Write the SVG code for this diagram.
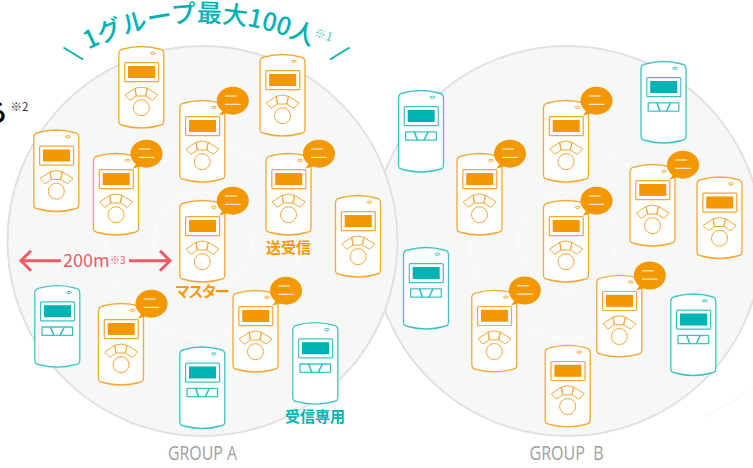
<svg xmlns="http://www.w3.org/2000/svg" width="753" height="468" viewBox="0 0 753 468">
<style>
text{font-family:"Noto Sans CJK JP","Noto Sans",sans-serif}
.zone{fill:#f6f8f8;stroke:#e0e1e1;stroke-width:2}
.ring{fill:none;stroke:#fff;stroke-width:.8;stroke-opacity:.85}
.body{fill:#fff;stroke-width:1.3}
.o{stroke:#f6a632;fill:none;stroke-linejoin:round}
.t{stroke:#3cc3c3;fill:none;stroke-linejoin:round}
.sf-o{fill:#f39800}
.sf-t{fill:#00b2b3}
.lbl-o{fill:#f39800;font-size:15px;font-weight:700}
.lbl-t{fill:#00b2b3;font-size:15px;font-weight:700}
.grp{fill:#a0a0a0;font-family:"Open Sans",sans-serif;font-size:19.5px}
.title{fill:#00b2b3;font-size:25px;font-weight:500}
.deco{stroke:#00b2b3;stroke-width:1.8;fill:none}
.dist{stroke:#ef5a66;stroke-width:3;fill:none}
</style>
<defs>
<path id="case" d="M0.5 8C0.5 4 2 3.2 5 2.5Q23 -2.5 41 2.5C44 3.2 45.5 4 45.5 8L45.5 74C45.5 78 44 78.3 41 79Q23 84 5 79C2 78.3 0.5 78 0.5 74Z"/>
<g id="dev-o">
<use href="#case" class="body" stroke="#f6a632"/>
<ellipse cx="34.5" cy="6.8" rx="2.4" ry="1.1" class="o"/>
<rect x="6.3" y="16.2" width="34" height="19" rx="1" class="o" stroke-width="1.2"/>
<rect x="9.7" y="19.5" width="27" height="12" class="sf-o"/>
<g class="o" stroke-width="1">
<path d="M6.7 48.5L16.7 41.8L18 49.5L11.7 53.8Z"/>
<path d="M39.7 48.5L29 41.8L27.3 49.5L34.3 53.8Z"/>
<path d="M16.7 41.8Q23 39.2 29 41.8L27.3 49.5H18Z"/>
<circle cx="23" cy="61.2" r="8"/>
</g>
</g>
<g id="dev-t">
<use href="#case" class="body" stroke="#3cc3c3"/>
<ellipse cx="34.5" cy="6.8" rx="2.4" ry="1.1" class="t"/>
<rect x="6.3" y="16.2" width="34" height="19" rx="1" class="t" stroke-width="1.2"/>
<rect x="9.7" y="19.5" width="27" height="12" class="sf-t"/>
<g class="t" stroke-width="1.3">
<path d="M7.7 41.3H16.3L19.5 49.7H7.7Z"/>
<path d="M16.3 41.3H30L26 49.7H19.5Z"/>
<path d="M30 41.3H38.3V49.7H26Z"/>
</g>
</g>
<g id="bub">
<path d="M39.7 15.2L45 8L50 12Z" fill="#f39800"/>
<ellipse cx="53.5" cy="0.2" rx="16" ry="14" fill="#f39800"/>
<path d="M45.7 -4.5H57.5M45.7 3.8H61.3" stroke="#fff" stroke-width="1"/>
</g>
<path id="arc" d="M60 67A250 250 0 0 1 346 67"/>
</defs>

<g id="zones">
<circle class="zone" cx="567.3" cy="241" r="195"/>
<circle class="ring" cx="567.3" cy="241" r="49"/>
<circle class="ring" cx="567.3" cy="241" r="97"/>
<circle class="zone" cx="202.5" cy="241" r="195"/>
<circle class="ring" cx="202.5" cy="241" r="49"/>
<circle class="ring" cx="202.5" cy="241" r="97"/>
<path d="M753 387Q730 405 703 417" fill="none" stroke="#f3f4f4"/>
</g>

<g id="connectors">
<path class="dist" d="M31 250.7L21 260.7L31 270.7M21 260.7H61"/>
<path class="dist" d="M160 250.7L170 260.7L160 270.7M170 260.7H129"/>
</g>

<g id="a1" transform="translate(118.3 46.5)"><use href="#dev-o"/></g>
<g id="a2" transform="translate(259.5 54.5)"><use href="#dev-o"/></g>
<g id="a3" transform="translate(33.3 130)"><use href="#dev-o"/></g>
<g id="a4" transform="translate(93 153.5)"><use href="#dev-o"/><use href="#bub"/></g>
<g id="a5" transform="translate(179.3 100.5)"><use href="#dev-o"/><use href="#bub"/></g>
<g id="a6" transform="translate(265.5 153.5)"><use href="#dev-o"/><use href="#bub"/></g>
<g id="a7" transform="translate(179.3 200.5)"><use href="#dev-o"/><use href="#bub"/></g>
<g id="a8" transform="translate(335 195.5)"><use href="#dev-o"/></g>
<g id="a9" transform="translate(34.3 285.7)"><use href="#dev-t"/></g>
<g id="a10" transform="translate(98 303.5)"><use href="#dev-o"/><use href="#bub"/></g>
<g id="a11" transform="translate(232.5 290.5)"><use href="#dev-o"/><use href="#bub"/></g>
<g id="a12" transform="translate(179.3 347)"><use href="#dev-t"/></g>
<g id="a13" transform="translate(292.3 322.7)"><use href="#dev-t"/></g>

<g id="b1" transform="translate(398 90.5)"><use href="#dev-t"/></g>
<g id="b2" transform="translate(456.5 153.5)"><use href="#dev-o"/><use href="#bub"/></g>
<g id="b3" transform="translate(543 100.5)"><use href="#dev-o"/><use href="#bub"/></g>
<g id="b4" transform="translate(543 200.5)"><use href="#dev-o"/><use href="#bub"/></g>
<g id="b5" transform="translate(640.5 61.5)"><use href="#dev-t"/></g>
<g id="b6" transform="translate(629.5 164.5)"><use href="#dev-o"/><use href="#bub"/></g>
<g id="b7" transform="translate(696.5 177)"><use href="#dev-o"/></g>
<g id="b8" transform="translate(403 247.5)"><use href="#dev-t"/></g>
<g id="b9" transform="translate(471.3 290.3)"><use href="#dev-o"/><use href="#bub"/></g>
<g id="b10" transform="translate(596.3 275.3)"><use href="#dev-o"/><use href="#bub"/></g>
<g id="b11" transform="translate(544.7 345.3)"><use href="#dev-o"/></g>
<g id="b12" transform="translate(670.3 294)"><use href="#dev-t"/></g>

<g id="title">
<path class="deco" d="M63.5 47.5L83 59.5M349.5 47.5L330 59.5"/>
<text class="title"><textPath href="#arc" startOffset="33">1グループ最大100人</textPath></text>
<text x="314" y="38" font-size="12" fill="#00b2b3" fill-opacity=".75" transform="rotate(18 320 35)">※1</text>
</g>
<text x="7.5" y="121" text-anchor="end" font-size="24" font-weight="700" fill="#000">る</text>
<text x="10.5" y="110.5" font-size="11.5" fill="#333">※2</text>
<g id="dist-label">
<text x="63" y="267" font-size="18" fill="#ef5a66">200m</text>
<text x="110" y="264" font-size="10" fill="#ef5a66">※3</text>
</g>
<text class="lbl-o" x="266" y="253">送受信</text>
<text class="lbl-o" x="175" y="297" textLength="55">マスター</text>
<text class="lbl-t" x="285" y="422">受信専用</text>
<text class="grp" x="168" y="460" textLength="69" lengthAdjust="spacingAndGlyphs">GROUP A</text>
<text class="grp" x="529.5" y="460" textLength="74" lengthAdjust="spacingAndGlyphs" word-spacing="5">GROUP B</text>
</svg>
